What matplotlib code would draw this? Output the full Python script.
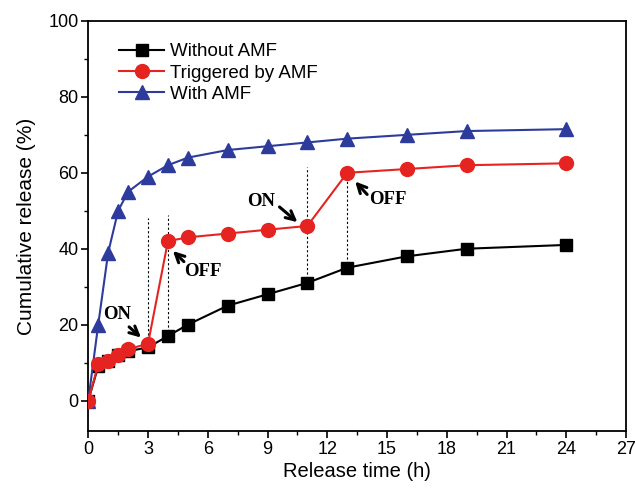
import numpy as np
import matplotlib
matplotlib.use('Agg')
import matplotlib.pyplot as plt
from matplotlib.ticker import MultipleLocator

plt.rcParams['font.family'] = ['Liberation Sans', 'DejaVu Sans']

# Release time (h) and cumulative release (%).
t = [0, 0.5, 1, 1.5, 2, 3, 4, 5, 7, 9, 11, 13, 16, 19, 24]
without_amf = [0, 9, 10.5, 12, 13, 14, 17, 20, 25, 28, 31, 35, 38, 40, 41]
triggered_amf = [0, 9.5, 10.5, 12, 13.5, 15, 42, 43, 44, 45, 46, 60, 61, 62, 62.5]
with_amf = [0, 20, 39, 50, 55, 59, 62, 64, 66, 67, 68, 69, 70, 71, 71.5]

# Switching times and the top of the guide lines.
switch_t = [3, 4, 11, 13]
switch_bottom = [15, 17, 31, 35]
switch_top = [48, 49, 61.6, 61.6]

fig = plt.figure(figsize=(6.35, 4.88), dpi=100)
ax = fig.add_axes([0.139, 0.117, 0.847, 0.840])

black = '#000000'
red = '#e52421'
blue = '#2d3c9c'

ax.plot(t, without_amf, '-s', color=black, mfc=black, mec=black, ms=8, lw=1.5, label='Without AMF', zorder=3)
ax.plot(t, triggered_amf, '-o', color=red, mfc=red, mec=red, ms=10, lw=1.5, label='Triggered by AMF', zorder=4)
ax.plot(t, with_amf, '-^', color=blue, mfc=blue, mec=blue, ms=10, lw=1.5, label='With AMF', zorder=3)

ax.vlines(switch_t, switch_bottom, switch_top, colors='k', linestyles=(0, (2, 2)), lw=0.8, zorder=2)

# ON / OFF labels: text position, arrow tail, arrow head.
notes = [('ON', (1.45, 22.6), (2.05, 19.4), (2.65, 16.6)),
         ('OFF', (5.75, 34.0), (4.8, 36.6), (4.25, 39.4)),
         ('ON', (8.7, 52.4), (9.6, 51.0), (10.5, 47.0)),
         ('OFF', (15.05, 52.9), (14.0, 54.3), (13.4, 57.7))]
for txt, pos, tail, head in notes:
    ax.text(pos[0], pos[1], txt, ha='center', va='center', fontsize=13.5, fontweight='bold',
            family=['Liberation Serif', 'DejaVu Serif'], zorder=5)
    ax.annotate('', xy=head, xytext=tail,
                arrowprops=dict(arrowstyle='->', color='k', lw=2.2, shrinkA=0, shrinkB=0,
                                mutation_scale=16))

ax.set_xlim(0, 27)
ax.set_ylim(-8, 100)
ax.xaxis.set_major_locator(MultipleLocator(3))
ax.xaxis.set_minor_locator(MultipleLocator(1.5))
ax.yaxis.set_major_locator(MultipleLocator(20))
ax.yaxis.set_minor_locator(MultipleLocator(10))
ax.tick_params(which='major', direction='out', length=5, width=1.2, labelsize=13, pad=2)
ax.tick_params(which='minor', direction='out', length=3, width=1.0)
for s in ax.spines.values():
    s.set_linewidth(1.3)

ax.set_xlabel('Release time (h)', fontsize=14.5, labelpad=3)
ax.set_ylabel('Cumulative release (%)', fontsize=15, labelpad=9)

ax.legend(loc='upper left', frameon=False, fontsize=13.5, bbox_to_anchor=(0.033, 0.978),
          handlelength=2.4, handletextpad=0.3, labelspacing=0.22, borderaxespad=0.3)

fig.savefig('out.png', dpi=100)
